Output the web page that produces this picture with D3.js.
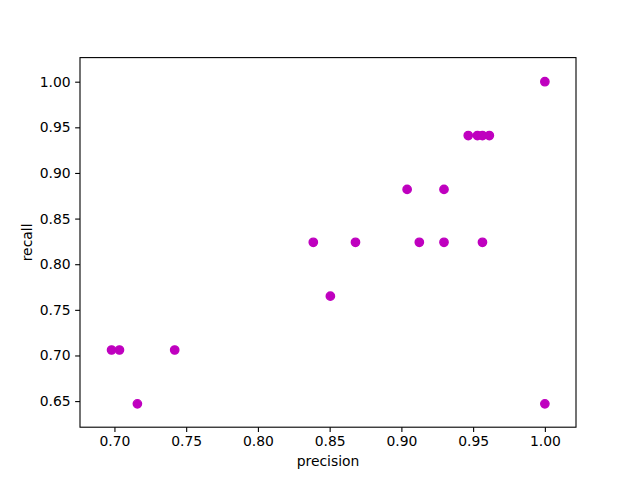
<!DOCTYPE html>
<html>
<head>
<meta charset="utf-8">
<script src="https://cdn.jsdelivr.net/npm/d3@7"></script>
<style>
html, body { margin: 0; padding: 0; background: #fff; }
svg { display: block; }
text { font-family: "DejaVu Sans", sans-serif; fill: #000; }
</style>
</head>
<body>
<script>
// Data
const precision = [0.698, 0.7035, 0.716, 0.742, 0.8386, 0.8505, 0.868, 0.904, 0.9125, 0.9297, 0.9297, 0.9466, 0.953, 0.9565, 0.9613, 0.9565, 1.000, 1.000];
const recall    = [0.706, 0.706, 0.647, 0.706, 0.824, 0.765, 0.824, 0.882, 0.824, 0.882, 0.824, 0.941, 0.941, 0.941, 0.941, 0.824, 1.000, 0.647];
const xTicks = [0.70, 0.75, 0.80, 0.85, 0.90, 0.95, 1.00];
const yTicks = [0.65, 0.70, 0.75, 0.80, 0.85, 0.90, 0.95, 1.00];
const xLabel = "precision";
const yLabel = "recall";

const W = 640, H = 480;
const L = 80, R = 576, T = 57.6, B = 427.2;

const svg = d3.select("body").append("svg").attr("width", W).attr("height", H);

const x = d3.scaleLinear().domain([0.676, 1.0217]).range([L, R]);
const y = d3.scaleLinear().domain([0.6214, 1.0264]).range([B, T]);

const pts = precision.map((p, i) => ({p, r: recall[i]}));

svg.append("g").selectAll("circle").data(pts).join("circle")
  .attr("cx", d => x(d.p)).attr("cy", d => y(d.r)).attr("r", 4.17)
  .attr("fill", "#bf00bf").attr("stroke", "#bf00bf").attr("stroke-width", 1.39);

const xAxis = d3.axisBottom(x).tickValues(xTicks).tickFormat(d3.format(".2f"))
  .tickSize(4.86).tickPadding(4.5);
const yAxis = d3.axisLeft(y).tickValues(yTicks).tickFormat(d3.format(".2f"))
  .tickSize(4.86).tickPadding(4.5);

const gx = svg.append("g").attr("transform", `translate(0,${B})`).call(xAxis);
const gy = svg.append("g").attr("transform", `translate(${L},0)`).call(yAxis);
[gx, gy].forEach(g => {
  g.select(".domain").remove();
  g.selectAll(".tick line").attr("stroke", "#000").attr("stroke-width", 1.1);
  g.selectAll(".tick text").attr("font-size", "13.9px").attr("font-family", "DejaVu Sans").attr("fill", "#000");
});

svg.append("rect").attr("x", L).attr("y", T).attr("width", R - L).attr("height", B - T)
  .attr("fill", "none").attr("stroke", "#000").attr("stroke-width", 1.1);

svg.append("text").attr("x", (L + R) / 2).attr("y", 466).attr("text-anchor", "middle")
  .attr("font-size", "13.9px").text(xLabel);
svg.append("text").attr("transform", `translate(32,${(T + B) / 2}) rotate(-90)`)
  .attr("text-anchor", "middle").attr("font-size", "13.9px").text(yLabel);
</script>
</body>
</html>
